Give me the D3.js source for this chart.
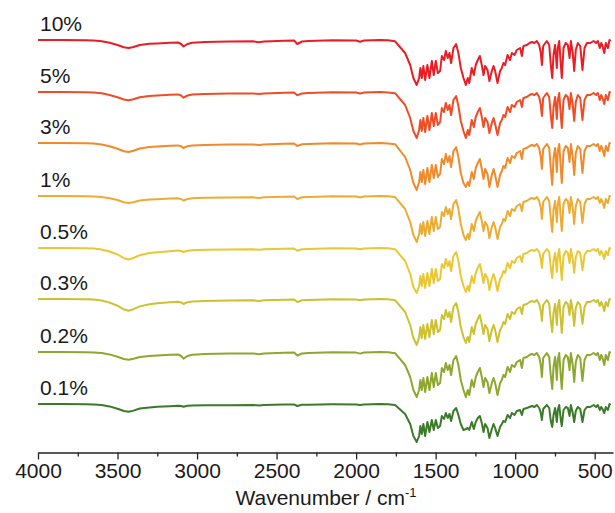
<!DOCTYPE html>
<html>
<head>
<meta charset="utf-8">
<script src="https://cdn.jsdelivr.net/npm/d3@7"></script>
<style>
  body { margin: 0; background: #fff; }
  text { font-family: Arial, "Liberation Sans", sans-serif; fill: #1a1a1a; }
</style>
</head>
<body>
<div id="chart"></div>
<script>
// Wavenumber grid (cm-1) shared by every spectrum
var wavenumbers = [4000, 3850, 3700, 3650, 3600, 3550, 3500, 3460, 3430, 3400, 3360, 3300, 3250, 3170, 3120, 3100, 3085, 3060, 3030, 2950,
  2800, 2650, 2610, 2580, 2450, 2390, 2370, 2340, 2300, 2150, 2000, 1975, 1950, 1850, 1800, 1755,
  1692, 1660, 1640, 1619, 1604, 1596, 1587, 1577, 1566, 1552, 1539, 1524, 1512, 1499, 1486, 1472, 1461, 1447, 1436, 1424,
  1413, 1403, 1388, 1371, 1357, 1342, 1325, 1310, 1298, 1289, 1273, 1260, 1248, 1235, 1222, 1210, 1199, 1189, 1174, 1162,
  1147, 1136, 1126, 1111, 1095, 1084, 1074, 1063, 1048, 1032, 1021, 1004, 990, 969, 958, 948, 927, 910, 895, 879,
  864, 849, 839, 832, 824, 801, 786, 776, 767, 759, 749, 738, 732, 723, 713, 707, 696, 682, 669, 658,
  650, 638, 629, 619, 606, 591, 577, 564, 549, 528, 507, 491, 480, 468, 459, 451, 440, 430, 417, 407, 400];

// Series labels, colours and vertical stacking offsets
var labels = ["10%", "5%", "3%", "1%", "0.5%", "0.3%", "0.2%", "0.1%"];
var colors = ["#ea1d25", "#f04c25", "#f08a2b", "#ecab33", "#eac733", "#cdc131", "#8ea72e", "#3a7a28"];
var offsets = [364, 312, 261, 208, 156, 105, 52, 0];

// Transmittance (a.u.)
var t10 = [100, 100, 99.8, 99.5, 98.8, 97.2, 95, 92.8, 92, 93, 95, 96.2, 96.5, 97.2, 97.5, 96, 93.5, 96, 97.3, 98,
  98.5, 98.7, 97.8, 98.5, 99.3, 99.5, 96, 98.5, 99, 99.8, 99.5, 98.3, 99.5, 100, 99.7, 98.7,
  87, 75, 62, 55, 62, 72, 62, 74, 60, 75, 62, 79, 65, 79, 67, 69, 84, 80, 89, 82, 87, 77, 92, 96, 87, 72, 62, 55, 62, 57,
  72, 65, 75, 80, 84, 75, 65, 74, 70, 59, 69, 74, 69, 57, 69, 72, 77, 75, 85, 80, 87, 85, 90, 92, 84, 94, 95, 97, 98, 97,
  99, 95, 87, 75, 94, 99, 95, 75, 62, 85, 95, 72, 92, 99, 75, 62, 92, 97, 95, 82, 99, 87, 69, 90, 97, 94, 70, 92, 97, 97,
  99, 97, 99, 92, 97, 94, 87, 97, 92, 100, 99];
var t5 = [100, 100, 99.8, 99.5, 98.7, 97, 94.8, 92.5, 91.7, 92.8, 94.8, 96, 96.5, 97.2, 97.6, 96.5, 94.3, 96.5, 97.5, 98,
  98.4, 98.6, 98, 98.6, 99.2, 99.5, 96.8, 98.6, 99, 99.7, 99.4, 98.5, 99.5, 100, 99.6, 98.8,
  87, 74, 61, 54, 62, 72, 61, 74, 60, 76, 62, 79, 66, 79, 67, 70, 84, 80, 89, 82, 87, 77, 92, 96, 86, 71, 61, 54, 62, 57,
  72, 65, 75, 80, 84, 75, 65, 74, 70, 59, 69, 74, 68, 57, 69, 72, 77, 75, 85, 80, 87, 85, 90, 92, 85, 94, 95, 97, 98, 97,
  99, 95, 87, 76, 94, 99, 95, 76, 64, 85, 95, 73, 92, 99, 76, 64, 92, 97, 95, 83, 99, 87, 71, 90, 97, 94, 72, 92, 97, 97,
  99, 97, 99, 92, 97, 94, 88, 97, 92, 100, 99];
var t3 = [100, 100, 99.8, 99.4, 98.6, 96.8, 94.3, 91.8, 91, 92.2, 94.5, 95.9, 96.6, 97.3, 97.6, 96.8, 95, 96.8, 97.6, 98.1,
  98.4, 98.6, 98, 98.6, 99.2, 99.5, 97, 98.7, 99, 99.7, 99.4, 98.6, 99.5, 100, 99.6, 98.8,
  86, 73, 60, 53, 61, 71, 61, 73, 59, 75, 61, 78, 65, 78, 66, 69, 84, 79, 89, 81, 87, 76, 92, 96, 86, 70, 60, 56, 61, 57,
  71, 64, 75, 80, 84, 74, 64, 74, 69, 56, 68, 74, 68, 56, 68, 72, 77, 75, 85, 80, 87, 85, 90, 92, 84, 94, 95, 97, 98, 97,
  99, 95, 86, 74, 94, 99, 95, 74, 58, 85, 95, 71, 92, 99, 74, 60, 92, 97, 95, 81, 99, 86, 68, 90, 97, 94, 70, 92, 97, 97,
  99, 97, 99, 92, 97, 94, 87, 97, 92, 100, 99];
var t1 = [100, 100, 99.8, 99.6, 99, 97.8, 96, 93.8, 93, 93.8, 95.5, 96.4, 96.8, 97.4, 97.7, 96.9, 95.5, 97, 97.7, 98.2,
  98.5, 98.7, 98.1, 98.7, 99.3, 99.5, 97, 98.7, 99.1, 99.7, 99.5, 98.6, 99.5, 100, 99.7, 98.9,
  87, 74, 61, 54, 62, 72, 62, 74, 60, 75, 62, 79, 65, 79, 67, 69, 84, 80, 89, 82, 87, 77, 92, 96, 87, 72, 61, 56, 62, 57,
  72, 65, 75, 80, 84, 75, 65, 74, 70, 58, 69, 74, 69, 57, 69, 72, 77, 75, 85, 80, 87, 85, 90, 92, 85, 94, 95, 97, 98, 97,
  99, 95, 88, 77, 94, 99, 95, 77, 64, 86, 95, 74, 92, 99, 77, 65, 92, 97, 95, 83, 99, 88, 72, 90, 97, 94, 73, 92, 97, 97,
  99, 97, 99, 93, 97, 94, 88, 97, 93, 100, 99];
var t05 = [100, 100, 99.8, 99.5, 98.5, 96.5, 93.5, 89.8, 88.5, 90, 92.8, 95, 95.8, 96.8, 97.4, 97, 96, 97.3, 97.8, 98.2,
  98.5, 98.7, 98.2, 98.7, 99.3, 99.5, 97.2, 98.8, 99.1, 99.7, 99.5, 98.7, 99.5, 100, 99.7, 98.8,
  87, 74, 61, 55, 62, 72, 62, 74, 60, 75, 62, 79, 65, 79, 67, 69, 84, 80, 89, 82, 87, 77, 92, 96, 87, 72, 62, 56, 62, 57,
  72, 65, 75, 80, 84, 75, 65, 74, 70, 58, 69, 74, 69, 57, 69, 72, 77, 75, 85, 80, 87, 85, 90, 92, 86, 94, 95, 97, 98, 97,
  99, 96, 89, 80, 94, 99, 96, 80, 70, 87, 95, 76, 92, 99, 80, 68, 92, 97, 95, 85, 99, 89, 75, 91, 97, 95, 78, 93, 97, 97,
  99, 97, 99, 93, 97, 95, 89, 97, 93, 100, 99];
var t03 = [100, 100, 99.8, 99.5, 98.5, 96.4, 93.3, 89.5, 88.3, 89.8, 92.6, 94.8, 95.7, 96.7, 97.3, 96.6, 95, 96.8, 97.6, 98.1,
  98.5, 98.7, 98.1, 98.7, 99.3, 99.5, 97, 98.7, 99.1, 99.7, 99.5, 98.7, 99.5, 100, 99.7, 98.8,
  87, 74, 61, 54, 62, 72, 61, 74, 60, 75, 62, 79, 65, 79, 67, 69, 84, 80, 89, 82, 87, 77, 92, 96, 87, 72, 62, 56, 62, 57,
  72, 65, 75, 80, 84, 75, 65, 74, 70, 58, 69, 74, 69, 57, 69, 72, 77, 75, 85, 80, 87, 85, 90, 92, 85, 94, 95, 97, 98, 97,
  99, 95, 88, 78, 94, 99, 95, 78, 67, 86, 95, 74, 92, 99, 78, 66, 92, 97, 95, 84, 99, 88, 73, 91, 97, 94, 75, 92, 97, 97,
  99, 97, 99, 93, 97, 94, 88, 97, 93, 100, 99];
var t02 = [100, 100, 99.8, 99.6, 99, 97.6, 95.3, 93, 92.3, 93.2, 95, 96, 96.6, 97.3, 97.5, 96, 93.3, 96, 97.3, 98,
  98.4, 98.6, 97.8, 98.5, 99.2, 99.5, 96.5, 98.5, 99, 99.7, 99.4, 98.4, 99.5, 100, 99.7, 98.8,
  87, 75, 62, 55, 62, 72, 62, 74, 60, 75, 62, 79, 65, 79, 67, 69, 84, 80, 89, 82, 87, 77, 92, 96, 87, 72, 62, 55, 62, 57,
  72, 65, 75, 80, 84, 75, 65, 74, 70, 59, 69, 74, 69, 57, 69, 72, 77, 75, 85, 80, 87, 85, 90, 92, 84, 94, 95, 97, 98, 97,
  99, 95, 87, 75, 94, 99, 95, 76, 63, 85, 95, 72, 92, 99, 75, 63, 92, 97, 95, 82, 99, 87, 70, 90, 97, 94, 71, 92, 97, 97,
  99, 97, 99, 92, 97, 94, 87, 97, 92, 100, 99];
var t01 = [100, 100, 99.8, 99.6, 99, 97.6, 95.3, 93, 92.3, 93.4, 95.5, 96.6, 97.2, 97.8, 98.2, 98, 97.3, 98.2, 98.5, 98.7,
  98.8, 99, 98.5, 99, 99.4, 99.6, 98, 99.2, 99.3, 99.7, 99.6, 99, 99.6, 100, 99.7, 99,
  90, 80, 68, 62, 68, 78, 70, 80, 68, 82, 72, 84, 74, 84, 76, 78, 88, 85, 91, 86, 90, 83, 93, 96, 89, 80, 74, 75, 76, 74,
  82, 75, 82, 86, 88, 81, 72, 80, 76, 66, 75, 80, 76, 68, 77, 80, 83, 82, 89, 86, 91, 89, 93, 94, 89, 95, 96, 97, 98, 97,
  99, 96, 91, 84, 95, 99, 96, 83, 77, 89, 96, 82, 94, 99, 84, 78, 94, 97, 96, 88, 99, 91, 82, 93, 97, 95, 82, 94, 97, 97,
  99, 97, 99, 94, 97, 95, 91, 97, 94, 100, 99];
var series = [t10, t5, t3, t1, t05, t03, t02, t01];

// Axis ticks
var majorTicks = [4000, 3500, 3000, 2500, 2000, 1500, 1000, 500];
var minorTicks = [3750, 3250, 2750, 2250, 1750, 1250, 750];

// Width and Height for canvas
var svgWidth = 615;
var svgHeight = 513;
var axisY = 452.5;

var svg = d3.select("#chart").append("svg")
  .attr("width", svgWidth)
  .attr("height", svgHeight);

// Reversed wavenumber axis, 1 transmittance unit = 1 px
var xScale = d3.scaleLinear().domain([4000, 385]).range([38, 613]);
var yScale = d3.scaleLinear().domain([504, 50]).range([0, 454]);

// Spectra
series.forEach(function(values, k) {
  var pts = values.map(function(v, i) {
    return { wn: wavenumbers[i], t: v + offsets[k] };
  });
  var line = d3.line()
    .x(d => xScale(d.wn))
    .y(d => yScale(d.t));
  svg.append("path")
    .datum(pts)
    .attr("fill", "none")
    .attr("stroke", colors[k])
    .attr("stroke-width", 2)
    .attr("stroke-linejoin", "round")
    .attr("d", line);

  // label above each trace
  svg.append("text")
    .attr("x", 40)
    .attr("y", yScale(100 + offsets[k]) - 9.5)
    .style("font-size", "21px")
    .text(labels[k]);
});

// Bottom axis
var bottomAxis = d3.axisBottom(xScale)
  .tickValues(majorTicks)
  .tickSize(7)
  .tickSizeOuter(0)
  .tickPadding(4)
  .tickFormat(d3.format("d"));

var axisG = svg.append("g")
  .attr("transform", `translate(0, ${axisY})`)
  .call(bottomAxis);
axisG.attr("font-family", null).attr("font-size", null);
axisG.selectAll("text").style("font-size", "21px").attr("fill", "#1a1a1a");
axisG.selectAll("line, path").attr("stroke", "#222").attr("stroke-width", 1.3);

var minorAxis = d3.axisBottom(xScale)
  .tickValues(minorTicks)
  .tickSize(4)
  .tickFormat("");
var minorG = svg.append("g")
  .attr("transform", `translate(0, ${axisY})`)
  .call(minorAxis);
minorG.select(".domain").remove();
minorG.selectAll("line").attr("stroke", "#222").attr("stroke-width", 1.3);

// Axis title
var title = svg.append("text")
  .attr("x", 326)
  .attr("y", 505)
  .attr("text-anchor", "middle")
  .style("font-size", "21px");
title.append("tspan").text("Wavenumber / cm");
title.append("tspan")
  .attr("dy", -8)
  .style("font-size", "13px")
  .text("-1");
</script>
</body>
</html>
